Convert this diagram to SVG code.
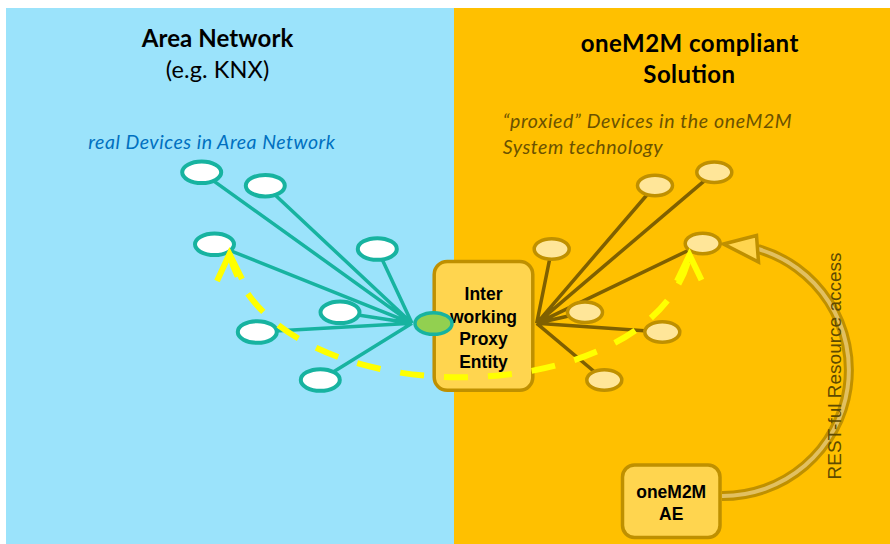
<svg xmlns="http://www.w3.org/2000/svg" width="890" height="544" viewBox="0 0 890 544">
<style>
.title{font-family:Lato,"Liberation Sans",sans-serif;font-weight:bold;font-size:24px;text-anchor:middle;fill:#000}
.sub{font-family:Lato,"Liberation Sans",sans-serif;font-size:23.5px;text-anchor:middle;fill:#000}
.ital{font-family:Lato,"Liberation Sans",sans-serif;font-style:italic;font-size:19.5px}
.box{font-family:"Liberation Sans",Arial,sans-serif;font-weight:bold;font-size:17.5px;text-anchor:middle;fill:#000}
.dev{fill:#fff;stroke:#17B3A0;stroke-width:4}
.pdev{fill:#FFE699;stroke:#BF9000;stroke-width:3.5}
.tl{stroke:#17B3A0;stroke-width:3.5;fill:none}
.bl{stroke:#7F6000;stroke-width:3.5;fill:none}
.yel{stroke:#FFFF00;stroke-width:6;fill:none}
</style>
<rect x="6" y="8" width="448" height="536" fill="#9BE3FB"/>
<rect x="454" y="8" width="436" height="536" fill="#FFC000"/>

<g id="texts">
<text class="title" x="217.5" y="46.7" textLength="151.6">Area Network</text>
<text class="sub" x="217.5" y="78" textLength="103.6">(e.g. KNX)</text>
<text class="title" x="689.5" y="51.7" textLength="217.7">oneM2M compliant</text>
<text class="title" x="689.2" y="83.3" textLength="91.7">Solution</text>
<text class="ital" x="88.3" y="149" fill="#0070C0" textLength="246.7">real Devices in Area Network</text>
<text class="ital" x="502.7" y="128.3" fill="#6B5200" textLength="289">“proxied” Devices in the oneM2M</text>
<text class="ital" x="502.7" y="154" fill="#6B5200" textLength="160">System technology</text>
</g>

<g id="connectors">
<path class="bl" d="M536.7,323.3 L551.7,249 M536.7,323.3 L655,185.5 M536.7,323.3 L714.3,172.3 M536.7,323.3 L702.7,243.5 M536.7,323.3 L585,312.3 M536.7,323.3 L662.3,332 M536.7,323.3 L604.3,380"/>
<path class="tl" d="M412,323.3 L201.7,172.3 M412,323.3 L265.3,185.7 M412,323.3 L214.5,244.3 M412,323.3 L377.3,249 M412,323.3 L340,312.3 M412,323.3 L257.3,332 M412,323.3 L320.3,380"/>
</g>

<g id="proxy">
<rect x="434.2" y="261.5" width="98.6" height="128.7" rx="13" fill="#FFD54F" stroke="#BF9000" stroke-width="3.5"/>
<text class="box" x="483.5" y="300">Inter</text>
<text class="box" x="483.5" y="323">working</text>
<text class="box" x="483.5" y="345">Proxy</text>
<text class="box" x="483.5" y="367.5">Entity</text>
</g>

<g id="hub"><ellipse cx="433.5" cy="323.5" rx="18.5" ry="10.8" fill="#92D050" stroke="#17B3A0" stroke-width="3.5"/></g>

<g id="real-devices">
<ellipse id="d1" class="dev" cx="201.7" cy="172.3" rx="19.5" ry="10.8"/>
<ellipse id="d2" class="dev" cx="265.3" cy="185.7" rx="19.5" ry="10.8"/>
<ellipse id="d3" class="dev" cx="214.5" cy="244.3" rx="19.5" ry="10.8"/>
<ellipse id="d4" class="dev" cx="377.3" cy="249" rx="19.5" ry="10.8"/>
<ellipse id="d5" class="dev" cx="340" cy="312.3" rx="19.5" ry="10.8"/>
<ellipse id="d6" class="dev" cx="257.3" cy="332" rx="19.5" ry="10.8"/>
<ellipse id="d7" class="dev" cx="320.3" cy="380" rx="19.5" ry="10.8"/>
</g>

<g id="proxied-devices">
<ellipse id="p1" class="pdev" cx="551.7" cy="249" rx="17.5" ry="10.3"/>
<ellipse id="p2" class="pdev" cx="655" cy="185.5" rx="17.5" ry="10.3"/>
<ellipse id="p3" class="pdev" cx="714.3" cy="172.3" rx="17.5" ry="10.3"/>
<ellipse id="p4" class="pdev" cx="702.7" cy="243.5" rx="17.5" ry="10.3"/>
<ellipse id="p5" class="pdev" cx="585" cy="312.3" rx="17.5" ry="10.3"/>
<ellipse id="p6" class="pdev" cx="662.3" cy="332" rx="17.5" ry="10.3"/>
<ellipse id="p7" class="pdev" cx="604.3" cy="380" rx="17.5" ry="10.3"/>
</g>

<g id="mapping">
<path class="yel" stroke-dasharray="24 20" d="M229.5,254 C270,418 650,418 689.5,256"/>
<polyline class="yel" points="217,281 229.5,254 242,279"/>
<polyline class="yel" points="677,281 689.5,255 701.5,280"/>
</g>

<g id="rest-arrow">
<path d="M722,496 A126 126 0 0 0 758,249" fill="none" stroke="#BF9000" stroke-width="10"/>
<path d="M722,496 A126 126 0 0 0 758,249" fill="none" stroke="#E2C060" stroke-width="4"/>
<polygon points="723.5,244 756.5,235.5 758.5,262" fill="#FFD54F" stroke="#BF9000" stroke-width="3.5" stroke-linejoin="miter"/>
<text transform="translate(840.5,366) rotate(-90)" x="0" y="0" text-anchor="middle" font-family="'Liberation Sans',Arial,sans-serif" font-size="19" fill="#5E4A00">REST-ful Resource access</text>
</g>

<g id="ae">
<rect x="622.5" y="465" width="97.5" height="72.5" rx="12" fill="#FFD54F" stroke="#BF9000" stroke-width="3.5"/>
<text class="box" x="671.2" y="498.3">oneM2M</text>
<text class="box" x="671.2" y="520">AE</text>
</g>
</svg>
